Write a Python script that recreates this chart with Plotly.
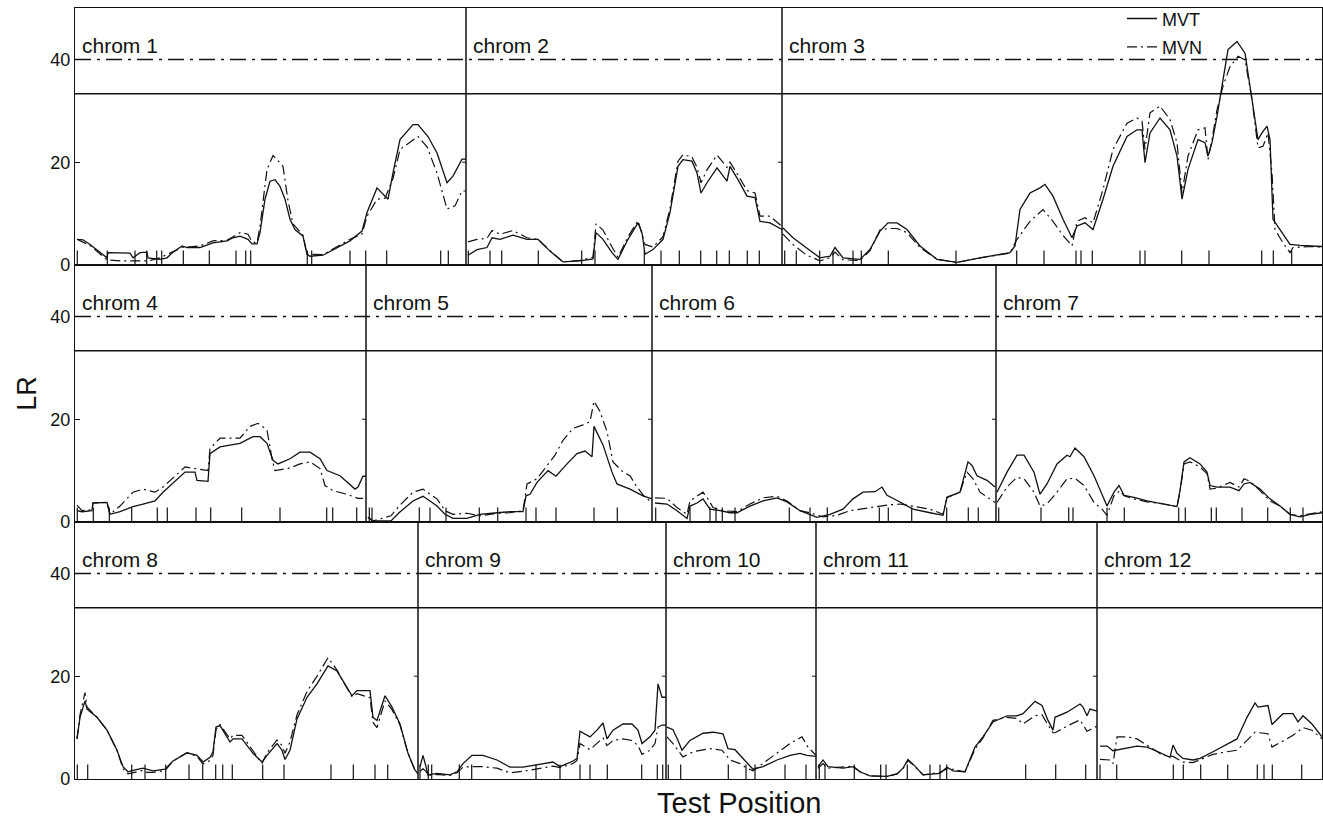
import plotly.graph_objects as go
from plotly.subplots import make_subplots

# ---------------- data (positions within chromosome, LR values) ----------------
chrom_names = ["chrom 1", "chrom 2", "chrom 3", "chrom 4", "chrom 5", "chrom 6",
               "chrom 7", "chrom 8", "chrom 9", "chrom 10", "chrom 11", "chrom 12"]
chrom_lengths = [391, 316, 540, 291, 286, 344, 326, 343, 248, 150, 281, 225]
row_members = [[0, 1, 2], [3, 4, 5, 6], [7, 8, 9, 10, 11]]

thresh_mvt = 33.3
thresh_mvn = 40.0
y_ticks = [0, 20, 40]
y_max = 50
marker_height = 2.8

chr1_t_pos = [2, 8, 15, 25, 32, 33, 55, 58, 65, 72, 73, 85, 92, 98, 107, 112, 125, 138, 152, 158, 165, 173, 177, 182, 185, 190, 195, 200, 205, 210, 215, 220, 228, 232, 235, 248, 262, 275, 287, 292, 302, 307, 313, 318, 325, 338, 343, 353, 362, 372, 378, 387, 391]
chr1_t_lr = [5.0, 4.9, 4.0, 2.4, 1.4, 2.4, 2.3, 1.4, 2.4, 2.5, 1.4, 1.1, 1.4, 2.5, 3.7, 3.4, 3.4, 4.3, 4.7, 5.3, 5.6, 5.0, 4.1, 4.1, 6.3, 12.8, 16.3, 16.6, 15.3, 12.8, 8.9, 6.9, 5.6, 2.1, 1.7, 1.9, 3.4, 4.7, 6.6, 10.2, 15.0, 14.0, 12.8, 17.9, 24.4, 27.3, 27.3, 25.0, 21.8, 16.0, 17.3, 20.6, 20.6]
chr1_n_pos = [2, 15, 32, 45, 60, 73, 85, 98, 107, 125, 138, 152, 165, 173, 177, 182, 185, 192, 198, 202, 208, 213, 218, 228, 232, 248, 262, 275, 287, 292, 302, 310, 318, 325, 343, 352, 362, 372, 380, 387, 391]
chr1_n_lr = [5.0, 3.8, 1.0, 0.8, 0.8, 0.8, 1.4, 2.6, 3.4, 3.7, 4.7, 4.8, 6.3, 6.0, 4.5, 4.3, 7.5, 18.6, 21.3, 20.5, 19.2, 12.5, 8.0, 5.8, 2.1, 2.0, 3.6, 5.0, 6.0, 9.5, 12.8, 13.0, 16.8, 22.5, 25.0, 23.0, 17.9, 10.9, 11.5, 14.4, 14.4]
chr1_markers = [2.3, 32.3, 60, 71.7, 81.7, 86.7, 108.3, 134.3, 161, 170.7, 175.7, 232.3, 236.7, 275, 290.7, 311.7, 365.7, 373.3]

chr2_t_pos = [2, 11, 21, 26, 34, 47, 61, 72, 84, 97, 114, 127, 130, 137, 146, 152, 162, 172, 176, 179, 187, 197, 204, 212, 217, 226, 231, 235, 241, 251, 261, 264, 272, 281, 289, 294, 304, 316]
chr2_t_lr = [1.9, 3.0, 3.4, 5.3, 5.0, 5.8, 5.0, 5.0, 2.7, 0.6, 0.8, 1.2, 6.3, 5.0, 2.4, 1.1, 5.0, 8.2, 6.3, 2.1, 3.0, 5.0, 10.2, 19.2, 20.5, 20.2, 17.9, 14.0, 16.0, 18.9, 16.3, 19.2, 16.6, 13.4, 13.1, 8.5, 8.2, 6.9]
chr2_n_pos = [2, 11, 21, 26, 34, 47, 61, 72, 84, 97, 114, 127, 130, 137, 146, 152, 162, 172, 176, 179, 187, 197, 204, 212, 217, 226, 231, 235, 241, 251, 261, 264, 272, 281, 289, 294, 304, 316]
chr2_n_lr = [4.5, 5.0, 5.2, 6.7, 6.0, 6.7, 5.3, 5.0, 2.8, 0.6, 0.9, 1.5, 8.0, 6.8, 3.5, 1.5, 5.5, 8.6, 6.0, 4.0, 3.5, 5.5, 11.0, 20.2, 21.5, 21.0, 19.0, 16.0, 18.5, 21.4, 19.0, 20.0, 17.5, 14.5, 14.0, 9.5, 9.5, 7.5]
chr2_markers = [2.3, 24, 35.7, 72.3, 115.7, 129, 178.3, 195, 213.3, 234.7, 250.7, 263.3, 281.3, 293.3]

chr3_t_pos = [1, 11, 24, 38, 48, 53, 61, 78, 88, 98, 106, 115, 125, 138, 155, 175, 198, 228, 233, 238, 248, 258, 263, 271, 281, 290, 295, 303, 311, 321, 331, 345, 355, 360, 363, 368, 378, 388, 395, 400, 406, 416, 423, 426, 430, 435, 440, 446, 455, 463, 470, 476, 480, 485, 488, 491, 498, 508, 518, 531, 540]
chr3_t_lr = [7.2, 5.3, 3.4, 1.4, 1.7, 3.4, 1.4, 1.1, 3.0, 6.6, 8.2, 8.2, 6.9, 3.7, 1.1, 0.5, 1.4, 2.4, 3.7, 10.8, 14.0, 15.0, 15.7, 13.4, 8.9, 5.3, 7.6, 8.2, 6.9, 12.8, 19.2, 25.0, 26.3, 26.3, 19.9, 25.7, 28.6, 26.3, 21.2, 12.8, 18.6, 24.4, 23.8, 21.2, 23.8, 28.9, 34.8, 41.9, 43.5, 41.2, 32.2, 24.4, 25.7, 27.0, 24.4, 8.9, 6.9, 4.0, 3.8, 3.7, 3.6]
chr3_n_pos = [1, 11, 24, 38, 48, 53, 61, 78, 88, 98, 106, 115, 125, 138, 155, 175, 198, 228, 235, 248, 261, 271, 280, 290, 295, 303, 311, 321, 331, 345, 355, 360, 363, 368, 378, 388, 395, 400, 406, 416, 423, 426, 430, 435, 441, 448, 456, 463, 470, 476, 481, 486, 490, 493, 501, 508, 511, 531, 540]
chr3_n_lr = [6.0, 4.0, 2.0, 0.8, 1.4, 2.5, 1.0, 0.9, 2.8, 6.8, 7.1, 7.1, 6.3, 3.4, 1.1, 0.5, 1.4, 2.3, 5.0, 8.5, 10.8, 8.5, 6.0, 3.7, 8.5, 9.2, 8.2, 14.7, 22.5, 27.6, 28.6, 28.0, 22.5, 29.6, 30.9, 28.3, 23.8, 14.0, 21.2, 26.3, 26.7, 20.5, 24.4, 30.2, 34.8, 38.6, 40.6, 39.9, 32.2, 22.8, 23.1, 25.7, 17.9, 6.9, 4.3, 2.4, 3.4, 3.6, 3.4]
chr3_markers = [2.7, 14.3, 37.7, 51, 71, 79.3, 106.3, 174, 234.7, 262, 294, 299, 310.3, 358, 363, 399.7, 427, 479.7, 491.3, 509.7]

chr4_t_pos = [2, 7, 17, 18, 32, 35, 45, 58, 68, 80, 88, 102, 110, 120, 122, 133, 135, 145, 165, 178, 185, 192, 198, 203, 215, 225, 235, 245, 252, 265, 273, 280, 283, 288, 291]
chr4_t_lr = [2.2, 2.0, 2.2, 3.7, 3.8, 1.5, 2.0, 3.0, 3.5, 4.1, 5.8, 8.4, 9.7, 9.7, 8.1, 7.9, 13.3, 14.6, 15.3, 16.6, 16.6, 15.3, 12.0, 11.3, 12.3, 13.6, 13.6, 12.3, 10.0, 9.0, 7.7, 6.4, 6.8, 8.9, 8.9]
chr4_n_pos = [2, 7, 17, 18, 32, 35, 45, 58, 68, 80, 88, 102, 110, 120, 133, 135, 145, 165, 175, 183, 192, 197, 200, 215, 225, 235, 245, 250, 258, 272, 283, 288]
chr4_n_lr = [3.3, 2.2, 2.4, 3.7, 3.8, 1.5, 3.1, 5.8, 6.4, 5.8, 6.8, 9.4, 10.7, 10.4, 10.0, 14.3, 16.3, 16.3, 18.6, 19.2, 17.9, 12.3, 10.0, 10.5, 11.3, 11.7, 10.4, 7.1, 6.1, 5.4, 4.6, 4.6]
chr4_markers = [2.3, 18.3, 34.3, 56.7, 82.3, 92.3, 121, 135.7, 166.7, 205, 251.7, 257.7, 281.7]

chr5_t_pos = [2, 7, 25, 33, 47, 57, 64, 71, 79, 87, 101, 114, 131, 144, 157, 160, 164, 171, 182, 190, 201, 211, 219, 226, 228, 237, 246, 251, 264, 277, 286]
chr5_t_lr = [0.9, 0.2, 0.2, 1.8, 4.1, 5.0, 4.1, 3.1, 1.5, 0.7, 0.7, 1.5, 1.8, 2.0, 2.0, 5.1, 5.4, 7.7, 10.0, 8.9, 11.3, 13.3, 13.8, 12.7, 18.6, 15.0, 9.7, 7.4, 6.4, 5.1, 4.5]
chr5_n_pos = [2, 7, 25, 33, 47, 57, 64, 71, 79, 87, 101, 114, 131, 144, 157, 161, 171, 181, 189, 197, 207, 217, 224, 228, 234, 241, 247, 257, 264, 271, 279, 286]
chr5_n_lr = [0.9, 0.2, 1.2, 3.1, 5.8, 6.4, 5.4, 4.5, 2.2, 1.5, 1.7, 1.2, 1.7, 1.8, 2.2, 7.4, 8.4, 11.0, 13.0, 15.9, 18.2, 18.9, 19.5, 23.5, 21.5, 17.6, 11.7, 9.7, 9.0, 6.8, 4.8, 3.8]
chr5_markers = [3.3, 6, 53.3, 64, 80, 113.3, 131.7, 160, 170, 190, 228, 251.3]

chr6_t_pos = [3, 15, 25, 35, 38, 45, 51, 58, 68, 78, 85, 98, 111, 125, 135, 148, 165, 178, 191, 201, 211, 223, 230, 235, 248, 261, 278, 291, 295, 308, 316, 320, 325, 335, 343]
chr6_t_lr = [3.7, 3.5, 2.2, 0.7, 3.1, 3.7, 4.5, 2.5, 2.2, 1.8, 1.8, 3.1, 4.1, 4.7, 3.9, 2.2, 0.9, 1.5, 2.5, 4.5, 5.8, 5.9, 6.8, 5.2, 3.9, 2.5, 1.8, 1.3, 4.8, 5.8, 11.7, 11.0, 9.0, 8.1, 6.8]
chr6_n_pos = [3, 15, 25, 35, 38, 45, 51, 56, 61, 71, 85, 98, 111, 125, 135, 148, 158, 171, 185, 198, 211, 225, 235, 248, 261, 278, 291, 295, 308, 315, 321, 328, 338, 343]
chr6_n_lr = [4.7, 4.6, 2.8, 1.5, 4.1, 5.1, 5.8, 4.5, 2.8, 2.2, 2.0, 3.5, 4.7, 5.0, 4.1, 2.2, 1.8, 1.0, 1.3, 2.2, 2.6, 3.1, 3.3, 3.5, 3.1, 2.5, 1.5, 4.8, 5.8, 9.7, 8.4, 5.8, 4.5, 3.8]
chr6_markers = [3.7, 38, 58, 64, 70.3, 83, 137.3, 158, 175.3, 227.3, 236.3, 259.7, 294.7, 316.3, 326.3]

chr7_t_pos = [1, 11, 21, 28, 38, 44, 51, 61, 71, 74, 79, 88, 98, 106, 111, 118, 123, 128, 138, 151, 168, 181, 184, 188, 194, 204, 211, 214, 221, 234, 243, 248, 254, 264, 274, 284, 294, 304, 314, 326]
chr7_t_lr = [5.8, 9.7, 13.0, 13.0, 9.7, 5.4, 7.4, 11.3, 13.0, 12.7, 14.4, 12.7, 9.0, 5.4, 3.1, 5.8, 7.1, 5.2, 4.8, 4.1, 3.5, 3.0, 6.1, 11.7, 12.5, 11.3, 9.7, 7.1, 6.8, 6.8, 6.1, 7.4, 7.7, 6.4, 4.5, 3.1, 1.5, 1.0, 1.5, 1.8]
chr7_n_pos = [1, 11, 21, 28, 38, 44, 51, 61, 71, 79, 88, 98, 106, 111, 118, 124, 128, 138, 151, 168, 181, 184, 188, 194, 204, 211, 214, 221, 234, 243, 248, 254, 264, 274, 284, 294, 304, 314, 326]
chr7_n_lr = [3.8, 6.8, 8.7, 8.4, 5.8, 3.1, 3.5, 5.8, 8.4, 8.5, 7.1, 3.8, 2.5, 1.3, 5.1, 6.1, 5.1, 4.5, 3.9, 3.5, 3.0, 5.8, 11.3, 11.7, 10.7, 9.4, 6.4, 6.6, 7.7, 6.8, 8.4, 7.9, 6.1, 4.1, 3.1, 1.5, 1.2, 1.5, 2.0]
chr7_markers = [2.7, 45, 72.7, 77, 111, 128.3, 182.7, 189.3, 215.3, 220.3, 246, 271.7, 294.3, 307]

chr8_t_pos = [2, 5, 10, 12, 22, 32, 42, 48, 53, 58, 68, 72, 78, 90, 98, 112, 122, 128, 135, 138, 141, 145, 155, 158, 167, 178, 187, 192, 202, 207, 210, 215, 222, 232, 242, 253, 262, 268, 277, 282, 295, 298, 302, 310, 317, 325, 333, 340, 343]
chr8_t_lr = [7.8, 12.0, 15.2, 13.6, 12.0, 9.5, 5.6, 2.4, 1.4, 1.7, 2.1, 1.9, 1.6, 1.9, 3.5, 5.1, 4.6, 3.3, 4.2, 5.3, 10.1, 10.4, 7.2, 7.8, 7.8, 5.0, 3.3, 4.6, 6.9, 5.6, 3.8, 5.6, 11.7, 15.9, 18.5, 22.0, 21.0, 19.1, 16.2, 17.2, 17.2, 12.0, 11.4, 16.2, 14.0, 10.7, 5.0, 1.7, 1.1]
chr8_n_pos = [2, 5, 10, 12, 22, 32, 42, 48, 53, 58, 68, 72, 78, 90, 98, 112, 122, 128, 135, 138, 141, 145, 155, 158, 167, 178, 187, 192, 202, 207, 210, 215, 222, 232, 242, 253, 262, 268, 277, 282, 295, 298, 302, 310, 317, 325, 333, 340, 343]
chr8_n_lr = [7.8, 12.5, 16.8, 14.0, 12.0, 9.5, 5.6, 2.0, 1.0, 1.2, 1.7, 1.3, 1.3, 1.6, 3.5, 5.1, 4.4, 2.9, 3.6, 4.6, 9.6, 10.6, 7.8, 8.5, 8.5, 5.5, 3.0, 5.1, 7.6, 6.5, 5.0, 7.2, 12.5, 17.0, 20.0, 23.6, 21.2, 19.0, 16.0, 16.6, 15.8, 11.0, 10.0, 15.2, 13.5, 10.5, 5.0, 1.7, 1.0]
chr8_markers = [2.3, 12.7, 56.7, 70, 90.7, 114, 127.7, 140.7, 147.7, 157.3, 187.7, 209, 256, 278.3, 300, 312.7]

chr9_t_pos = [2, 5, 8, 10, 19, 32, 39, 45, 54, 65, 79, 92, 105, 119, 135, 142, 155, 159, 162, 172, 179, 185, 189, 195, 205, 214, 220, 224, 232, 237, 240, 244, 248]
chr9_t_lr = [2.4, 4.6, 2.4, 0.8, 1.1, 0.8, 1.4, 3.0, 4.6, 4.6, 3.7, 2.3, 2.3, 2.7, 3.3, 2.4, 3.5, 4.0, 9.3, 8.2, 9.5, 10.9, 7.8, 9.5, 10.7, 10.7, 9.5, 6.9, 8.2, 9.5, 18.5, 15.9, 15.9]
chr9_n_pos = [2, 5, 8, 10, 19, 32, 39, 45, 54, 65, 79, 92, 105, 119, 135, 142, 155, 159, 162, 172, 179, 185, 189, 195, 205, 214, 220, 224, 232, 237, 240, 244, 248]
chr9_n_lr = [1.5, 2.0, 1.5, 0.7, 0.9, 0.7, 1.2, 2.3, 2.4, 2.4, 2.1, 1.2, 1.5, 2.0, 2.5, 2.2, 3.0, 3.6, 6.9, 5.7, 6.9, 8.0, 6.5, 7.5, 7.8, 7.5, 6.5, 4.8, 5.6, 6.9, 10.1, 10.5, 10.5]
chr9_markers = [2, 10.3, 13.7, 41.3, 53.7, 118, 142, 162, 172, 189.3, 223.7, 239.3, 244.7]

chr10_t_pos = [1, 7, 12, 16, 24, 37, 47, 57, 62, 69, 77, 87, 97, 111, 124, 134, 141, 150]
chr10_t_lr = [10.1, 9.6, 7.5, 5.6, 7.5, 8.9, 9.1, 8.8, 5.9, 5.7, 4.0, 1.9, 2.4, 3.7, 4.6, 5.0, 4.6, 4.4]
chr10_n_pos = [1, 7, 12, 17, 27, 44, 56, 64, 74, 81, 87, 97, 111, 124, 136, 142, 150]
chr10_n_lr = [8.2, 6.9, 5.6, 4.3, 5.3, 5.9, 5.6, 3.7, 3.0, 2.1, 1.6, 3.0, 5.0, 6.9, 8.2, 6.2, 4.6]
chr10_markers = [2.3, 14.7, 62.3, 80, 89, 119, 140]

chr11_t_pos = [2, 7, 12, 27, 37, 44, 54, 71, 81, 87, 92, 99, 107, 124, 131, 137, 149, 159, 167, 177, 191, 201, 207, 219, 226, 232, 237, 239, 251, 264, 267, 271, 274, 281]
chr11_t_lr = [2.4, 3.7, 2.4, 2.1, 2.4, 1.4, 0.6, 0.5, 1.0, 2.1, 3.8, 2.5, 0.8, 1.1, 2.3, 1.6, 1.4, 6.2, 8.2, 11.1, 12.3, 12.3, 12.7, 15.1, 14.3, 11.4, 9.5, 12.0, 13.0, 14.6, 14.0, 12.3, 13.6, 13.2]
chr11_n_pos = [2, 7, 12, 27, 37, 44, 54, 71, 81, 87, 92, 99, 107, 124, 131, 137, 149, 159, 167, 177, 191, 201, 207, 219, 226, 232, 237, 239, 251, 264, 267, 271, 274, 281]
chr11_n_lr = [2.1, 3.0, 2.1, 2.3, 2.5, 1.4, 0.6, 0.5, 1.0, 2.0, 3.6, 2.4, 0.8, 1.3, 2.0, 1.9, 1.4, 5.8, 8.0, 11.4, 12.0, 11.8, 10.7, 12.3, 12.5, 10.5, 9.0, 9.0, 10.3, 11.5, 10.5, 9.3, 9.6, 10.3]
chr11_markers = [3.3, 9, 38.3, 64.7, 70, 91.3, 114, 124, 130.7, 209.7, 239.7, 269.7]

chr12_t_pos = [3, 10, 16, 26, 40, 50, 60, 73, 76, 80, 86, 96, 103, 116, 130, 140, 150, 158, 161, 171, 175, 186, 196, 201, 206, 215, 225]
chr12_t_lr = [6.4, 6.4, 5.5, 5.9, 6.4, 6.2, 5.4, 4.2, 6.6, 5.0, 4.0, 3.7, 4.0, 5.3, 6.8, 7.8, 12.0, 14.8, 14.0, 14.3, 10.6, 12.7, 12.7, 11.1, 12.3, 10.7, 8.2]
chr12_n_pos = [3, 13, 16, 20, 30, 40, 53, 66, 76, 86, 96, 106, 116, 130, 140, 150, 158, 171, 175, 186, 196, 206, 215, 225]
chr12_n_lr = [3.8, 3.7, 3.0, 8.2, 8.2, 7.8, 6.2, 4.6, 4.4, 3.3, 3.2, 4.0, 4.8, 5.3, 5.6, 7.5, 9.1, 8.8, 6.2, 7.4, 8.5, 10.0, 9.5, 7.8]
chr12_markers = [3, 19.7, 76.3, 86.3, 103.7, 130.7, 160.3, 167, 175.3, 204.7]

mvt_pos = [chr1_t_pos, chr2_t_pos, chr3_t_pos, chr4_t_pos, chr5_t_pos, chr6_t_pos,
           chr7_t_pos, chr8_t_pos, chr9_t_pos, chr10_t_pos, chr11_t_pos, chr12_t_pos]
mvt_lr = [chr1_t_lr, chr2_t_lr, chr3_t_lr, chr4_t_lr, chr5_t_lr, chr6_t_lr,
          chr7_t_lr, chr8_t_lr, chr9_t_lr, chr10_t_lr, chr11_t_lr, chr12_t_lr]
mvn_pos = [chr1_n_pos, chr2_n_pos, chr3_n_pos, chr4_n_pos, chr5_n_pos, chr6_n_pos,
           chr7_n_pos, chr8_n_pos, chr9_n_pos, chr10_n_pos, chr11_n_pos, chr12_n_pos]
mvn_lr = [chr1_n_lr, chr2_n_lr, chr3_n_lr, chr4_n_lr, chr5_n_lr, chr6_n_lr,
          chr7_n_lr, chr8_n_lr, chr9_n_lr, chr10_n_lr, chr11_n_lr, chr12_n_lr]
markers = [chr1_markers, chr2_markers, chr3_markers, chr4_markers, chr5_markers, chr6_markers,
           chr7_markers, chr8_markers, chr9_markers, chr10_markers, chr11_markers, chr12_markers]

# ---------------- figure ----------------
FONT = "Liberation Sans, Arial, Helvetica, sans-serif"
INK = "#111111"
DASHDOT = "16px,6px,3px,6px"
CURVE_DASHDOT = "10px,4px,2px,4px"
W, H = 1323, 818

fig = make_subplots(rows=3, cols=1, vertical_spacing=0)
annotations = []
shapes = []

for r, members in enumerate(row_members, start=1):
    xref = "x" if r == 1 else f"x{r}"
    yref = "y" if r == 1 else f"y{r}"
    total = sum(chrom_lengths[i] for i in members)
    tx, ty, nx, ny, mx, my = [], [], [], [], [], []
    offset = 0
    for k, i in enumerate(members):
        tx += [offset + p for p in mvt_pos[i]] + [None]
        ty += list(mvt_lr[i]) + [None]
        nx += [offset + p for p in mvn_pos[i]] + [None]
        ny += list(mvn_lr[i]) + [None]
        for m in markers[i]:
            mx += [offset + m, offset + m, None]
            my += [0, marker_height, None]
        annotations.append(dict(x=offset + 5, y=42.7, xref=xref, yref=yref, text=chrom_names[i],
                                showarrow=False, xanchor="left", yanchor="middle",
                                font=dict(family=FONT, size=21, color=INK)))
        offset += chrom_lengths[i]
        if k < len(members) - 1:
            shapes.append(dict(type="line", xref=xref, yref=yref, x0=offset, x1=offset,
                               y0=0, y1=y_max, line=dict(color=INK, width=1.5)))
            shapes.append(dict(type="line", xref=xref, yref=yref, x0=offset - 4, x1=offset,
                               y0=20, y1=20, line=dict(color=INK, width=1)))

    # thresholds
    fig.add_trace(go.Scatter(x=[0, total], y=[thresh_mvn, thresh_mvn], mode="lines",
                             line=dict(color=INK, width=1.5, dash=DASHDOT),
                             showlegend=False, hoverinfo="skip"), row=r, col=1)
    fig.add_trace(go.Scatter(x=[0, total], y=[thresh_mvt, thresh_mvt], mode="lines",
                             line=dict(color=INK, width=1.5),
                             showlegend=False, hoverinfo="skip"), row=r, col=1)
    # marker ticks
    fig.add_trace(go.Scatter(x=mx, y=my, mode="lines", line=dict(color=INK, width=1.2),
                             showlegend=False, hoverinfo="skip"), row=r, col=1)
    # curves
    fig.add_trace(go.Scatter(x=tx, y=ty, mode="lines", name="MVT", legendgroup="MVT",
                             line=dict(color=INK, width=1.3),
                             showlegend=(r == 1), connectgaps=False), row=r, col=1)
    fig.add_trace(go.Scatter(x=nx, y=ny, mode="lines", name="MVN", legendgroup="MVN",
                             line=dict(color=INK, width=1.2, dash=CURVE_DASHDOT),
                             showlegend=(r == 1), connectgaps=False), row=r, col=1)

    fig.update_xaxes(range=[0, total], showticklabels=False, ticks="", showgrid=False,
                     zeroline=False, showline=True, mirror=True, linecolor=INK, linewidth=1.3,
                     row=r, col=1)
    fig.update_yaxes(range=[0, y_max], tickvals=y_ticks, ticks="inside", ticklen=5,
                     tickcolor=INK, showgrid=False, zeroline=False, showline=True, mirror=True,
                     linecolor=INK, linewidth=1.3,
                     tickfont=dict(family=FONT, size=18, color=INK), row=r, col=1)

annotations.append(dict(x=-0.039, y=0.5, xref="paper", yref="paper", text="LR", textangle=-90,
                        showarrow=False, xanchor="center", yanchor="middle",
                        font=dict(family=FONT, size=27, color=INK)))
annotations.append(dict(x=0.5325, y=0, xref="paper", yref="paper", text="Test Position",
                        showarrow=False, xanchor="center", yanchor="middle", yshift=-24,
                        font=dict(family=FONT, size=29, color=INK)))

fig.update_layout(
    width=W, height=H,
    margin=dict(l=75, r=1, t=8, b=39, autoexpand=False),
    paper_bgcolor="white", plot_bgcolor="white",
    font=dict(family=FONT, color=INK),
    showlegend=True,
    legend=dict(x=0.8396, y=1.01, xanchor="left", yanchor="top", bgcolor="rgba(0,0,0,0)",
                borderwidth=0, font=dict(family=FONT, size=18, color=INK),
                tracegroupgap=2, itemwidth=30),
    annotations=annotations,
    shapes=shapes,
)

post = ("document.body.style.margin='0';document.body.style.padding='0';"
        "document.body.style.overflow='hidden';"
        "var gd=document.getElementById('{plot_id}');"
        "Plotly.relayout(gd,{width:%d,height:%d});" % (W, H))

fig.write_html("out.html", config={"responsive": False, "displayModeBar": False},
               post_script=post)
